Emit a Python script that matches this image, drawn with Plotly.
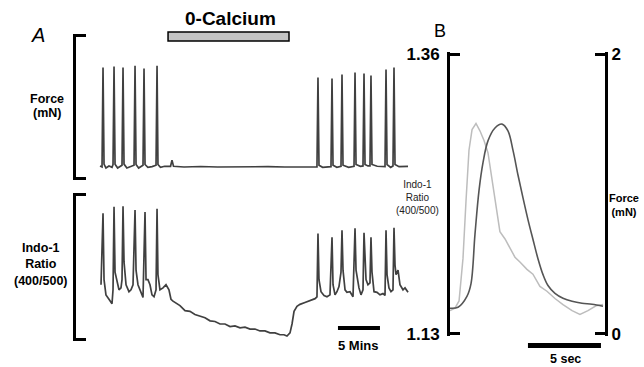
import plotly.graph_objects as go

# ---------------- Panel A data (time in minutes) ----------------
force_a_time = [0.00, 0.24, 0.36, 0.48, 0.71, 1.07, 1.43, 1.55, 1.67, 1.79, 2.10, 2.50, 2.62, 2.74, 2.86,
                3.20, 3.69, 4.05, 4.17, 4.29, 4.60, 5.00, 5.12, 5.24, 5.36, 5.70, 6.20, 6.67, 6.79, 6.90,
                7.20, 7.70, 8.40, 8.57, 8.75, 10.0, 12.0, 14.0, 16.0, 18.0, 20.0, 22.0, 24.0, 25.83,
                25.95, 26.07, 26.50, 27.50, 27.62, 27.74, 28.20, 28.69, 28.81, 28.93, 29.60, 30.24,
                30.36, 30.48, 31.00, 31.31, 31.43, 31.55, 31.90, 32.14, 32.26, 32.38, 33.00, 33.93,
                34.05, 34.17, 34.60, 34.88, 35.00, 35.12, 35.60, 36.67]
force_a_value = [0.178, 0.165, 1.548, 0.205, 0.150, 0.178, 0.160, 0.200, 1.562, 0.205, 0.150, 0.175, 0.190,
                 1.548, 0.205, 0.150, 0.170, 0.190, 1.575, 0.200, 0.150, 0.175, 0.190, 1.534, 0.200, 0.160,
                 0.170, 0.190, 1.575, 0.200, 0.160, 0.175, 0.175, 0.260, 0.175, 0.165, 0.172, 0.165, 0.170,
                 0.165, 0.170, 0.165, 0.170, 0.165, 1.411, 0.190, 0.160, 0.170, 1.397, 0.190, 0.160, 0.175,
                 1.452, 0.190, 0.160, 0.175, 1.479, 0.200, 0.175, 0.180, 1.466, 0.200, 0.180, 0.180, 1.438,
                 0.200, 0.175, 0.170, 1.521, 0.200, 0.160, 0.180, 1.548, 0.200, 0.170, 0.175]

indo_a_time = [0.12, 0.36, 0.48, 0.71, 1.07, 1.43, 1.55, 1.67, 1.79, 2.02, 2.26, 2.50, 2.62, 2.74, 2.86,
               3.10, 3.45, 3.69, 3.93, 4.17, 4.29, 4.52, 4.88, 5.12, 5.36, 5.48, 5.71, 5.95, 6.19, 6.43,
               6.67, 6.79, 6.90, 7.14, 7.50, 7.86, 8.21, 8.45, 8.69, 9.52, 10.12, 10.71, 11.30, 11.90,
               12.50, 13.10, 13.69, 14.29, 14.88, 15.48, 16.07, 16.67, 17.26, 17.86, 18.45, 19.05, 19.64,
               20.24, 20.83, 21.43, 21.90, 22.26, 22.62, 22.86, 23.10, 23.45, 23.81, 24.40, 25.00, 25.60,
               25.83, 25.95, 26.07, 26.31, 26.67, 27.02, 27.38, 27.62, 27.74, 27.98, 28.21, 28.45, 28.69,
               28.81, 28.93, 29.17, 29.40, 29.76, 30.12, 30.36, 30.48, 30.60, 30.83, 31.07, 31.31, 31.43,
               31.55, 31.67, 31.90, 32.14, 32.26, 32.38, 32.62, 32.98, 33.33, 33.69, 33.93, 34.05, 34.17,
               34.40, 34.64, 34.88, 35.00, 35.12, 35.24, 35.48, 35.71, 36.07, 36.31, 36.67]
indo_a_value = [1.217, 1.330, 1.225, 1.201, 1.194, 1.187, 1.209, 1.340, 1.237, 1.222, 1.209, 1.212, 1.225,
                1.341, 1.253, 1.217, 1.206, 1.209, 1.217, 1.335, 1.240, 1.217, 1.206, 1.197, 1.332, 1.225,
                1.225, 1.217, 1.201, 1.198, 1.209, 1.337, 1.233, 1.209, 1.212, 1.217, 1.209, 1.194, 1.191,
                1.184, 1.176, 1.175, 1.170, 1.167, 1.165, 1.160, 1.159, 1.155, 1.155, 1.151, 1.152, 1.149,
                1.150, 1.147, 1.147, 1.144, 1.144, 1.141, 1.141, 1.138, 1.138, 1.136, 1.141, 1.155, 1.175,
                1.183, 1.186, 1.189, 1.192, 1.195, 1.198, 1.298, 1.225, 1.206, 1.200, 1.198, 1.201, 1.292,
                1.217, 1.201, 1.206, 1.214, 1.237, 1.303, 1.240, 1.209, 1.205, 1.206, 1.198, 1.306, 1.240,
                1.228, 1.212, 1.201, 1.209, 1.299, 1.248, 1.225, 1.217, 1.220, 1.292, 1.237, 1.206, 1.205,
                1.201, 1.203, 1.200, 1.303, 1.233, 1.212, 1.206, 1.209, 1.307, 1.248, 1.233, 1.240, 1.217,
                1.209, 1.212, 1.205]

# ---------------- Panel B data (time in seconds) ----------------
force_b_time = [0.00, 0.55, 1.16, 1.44, 1.71, 1.99, 2.26, 2.60, 3.08, 3.56, 3.97, 4.32, 4.66, 5.00, 5.34,
                5.68, 6.03, 6.37, 6.71, 7.19, 7.74, 8.36, 9.04, 9.73, 10.48]
force_b_value = [0.183, 0.190, 0.268, 0.359, 0.711, 1.028, 1.225, 1.380, 1.472, 1.500, 1.451, 1.310, 1.134,
                 0.972, 0.817, 0.676, 0.535, 0.423, 0.345, 0.289, 0.254, 0.232, 0.218, 0.211, 0.197]

indo_b_time = [0.00, 0.34, 0.62, 0.89, 1.10, 1.30, 1.51, 1.78, 2.05, 2.33, 2.60, 2.88, 3.15, 3.42, 3.77,
               4.11, 4.45, 4.79, 5.27, 5.68, 6.16, 6.64, 7.19, 7.74, 8.36, 8.90, 9.45, 10.00, 10.48]
indo_b_value = [1.149, 1.151, 1.157, 1.192, 1.240, 1.281, 1.298, 1.303, 1.297, 1.289, 1.279, 1.256, 1.236,
                1.214, 1.208, 1.200, 1.193, 1.189, 1.183, 1.179, 1.169, 1.165, 1.159, 1.154, 1.149, 1.146,
                1.149, 1.153, 1.154]

# annotation bars (data units)
calcium_free_period = [8.10, 22.50]   # minutes
scale_bar_minutes = [28.33, 33.33]    # 5 min
scale_bar_seconds = [5.34, 10.34]     # 5 s

W, H = 644, 367
def px_x(p): return p / W
def px_y(p): return (H - p) / H

FONT = "Liberation Sans, Arial, sans-serif"

fig = go.Figure()
fig.add_trace(go.Scatter(x=force_a_time, y=force_a_value, mode="lines", xaxis="x", yaxis="y",
                         line=dict(color="#404040", width=1.7), showlegend=False))
fig.add_trace(go.Scatter(x=indo_a_time, y=indo_a_value, mode="lines", xaxis="x", yaxis="y2",
                         line=dict(color="#404040", width=1.7), showlegend=False))
fig.add_trace(go.Scatter(x=indo_b_time, y=indo_b_value, mode="lines", xaxis="x2", yaxis="y3",
                         line=dict(color="#bdbdbd", width=1.5), showlegend=False))
fig.add_trace(go.Scatter(x=force_b_time, y=force_b_value, mode="lines", xaxis="x2", yaxis="y4",
                         line=dict(color="#555555", width=1.6, shape="spline"), showlegend=False))

bracket = dict(showline=True, linewidth=3, linecolor="black", ticks="inside", ticklen=10,
               tickwidth=3, tickcolor="black", showgrid=False, zeroline=False, automargin=False)

def padded(lo, hi):
    d = (hi - lo) * 0.008
    return [lo - d, hi + d]

min_per_px = 1 / 8.4
s_per_px = 1 / 14.6
fig.update_layout(
    template="none",
    width=W, height=H, margin=dict(l=0, r=0, t=0, b=0, pad=0), autosize=False,
    paper_bgcolor="white", plot_bgcolor="rgba(0,0,0,0)",
    font=dict(family=FONT, color="black"),
    xaxis=dict(domain=[px_x(76), px_x(420)], range=[(76 - 100) * min_per_px, (420 - 100) * min_per_px],
               visible=False, automargin=False),
    yaxis=dict(domain=[px_y(180), px_y(34)], range=padded(0, 2), anchor="x", tickvals=[0, 2],
               showticklabels=False, **bracket),
    yaxis2=dict(domain=[px_y(341), px_y(193)], range=padded(1.13, 1.36), anchor="x",
                tickvals=[1.13, 1.36], showticklabels=False, **bracket),
    xaxis2=dict(domain=[px_x(450), px_x(605)], range=[0, 155 * s_per_px], visible=False, anchor="y3",
                automargin=False),
    yaxis3=dict(domain=[px_y(336), px_y(52)], range=padded(1.13, 1.36), anchor="x2", tickvals=[1.13, 1.36],
                ticktext=["1.13", "1.36"], tickfont=dict(size=17, weight="bold", family=FONT),
                ticklabelstandoff=4, **bracket),
    yaxis4=dict(range=padded(0, 2), anchor="x2", overlaying="y3", side="right", tickvals=[0, 2],
                ticktext=["0", "2"], tickfont=dict(size=17, weight="bold", family=FONT),
                ticklabelstandoff=0, **bracket),
)

fig.add_shape(type="rect", xref="x", yref="paper", x0=calcium_free_period[0], x1=calcium_free_period[1],
              y0=px_y(41), y1=px_y(32), fillcolor="#c4c4c4", line=dict(color="black", width=1.5))
fig.add_shape(type="line", xref="x", yref="paper", x0=scale_bar_minutes[0], x1=scale_bar_minutes[1],
              y0=px_y(328), y1=px_y(328), line=dict(color="black", width=4))
fig.add_shape(type="line", xref="x2", yref="paper", x0=scale_bar_seconds[0], x1=scale_bar_seconds[1],
              y0=px_y(345.5), y1=px_y(345.5), line=dict(color="black", width=5))

def ann(text, x, y, size, bold=True, italic=False, color="black", xanchor="center"):
    fig.add_annotation(text=text, x=px_x(x), y=px_y(y), xref="paper", yref="paper", showarrow=False,
                       xanchor=xanchor, yanchor="middle", align="center",
                       font=dict(family=FONT, size=size, color=color,
                                 weight="bold" if bold else "normal",
                                 style="italic" if italic else "normal"))

ann("A", 38, 35, 20, bold=False, italic=True)
ann("B", 440, 31, 18, bold=False)
ann("0-Calcium", 230, 19, 19)
ann("Force", 47, 99, 12.5)
ann("(mN)", 47, 113, 12.5)
ann("Indo-1<br>Ratio<br>(400/500)", 41, 264, 12.5)
ann("Indo-1<br>Ratio<br>(400/500)", 417, 197, 10, bold=False, color="#222")
ann("Force<br>(mN)", 607, 205, 11, xanchor="left")
ann("5 Mins", 358, 345, 13)
ann("5 sec", 565, 358.5, 12.5)

fig.write_html("out.html", config={"displayModeBar": False},
               post_script="document.body.style.margin='0';document.body.style.overflow='hidden';")
